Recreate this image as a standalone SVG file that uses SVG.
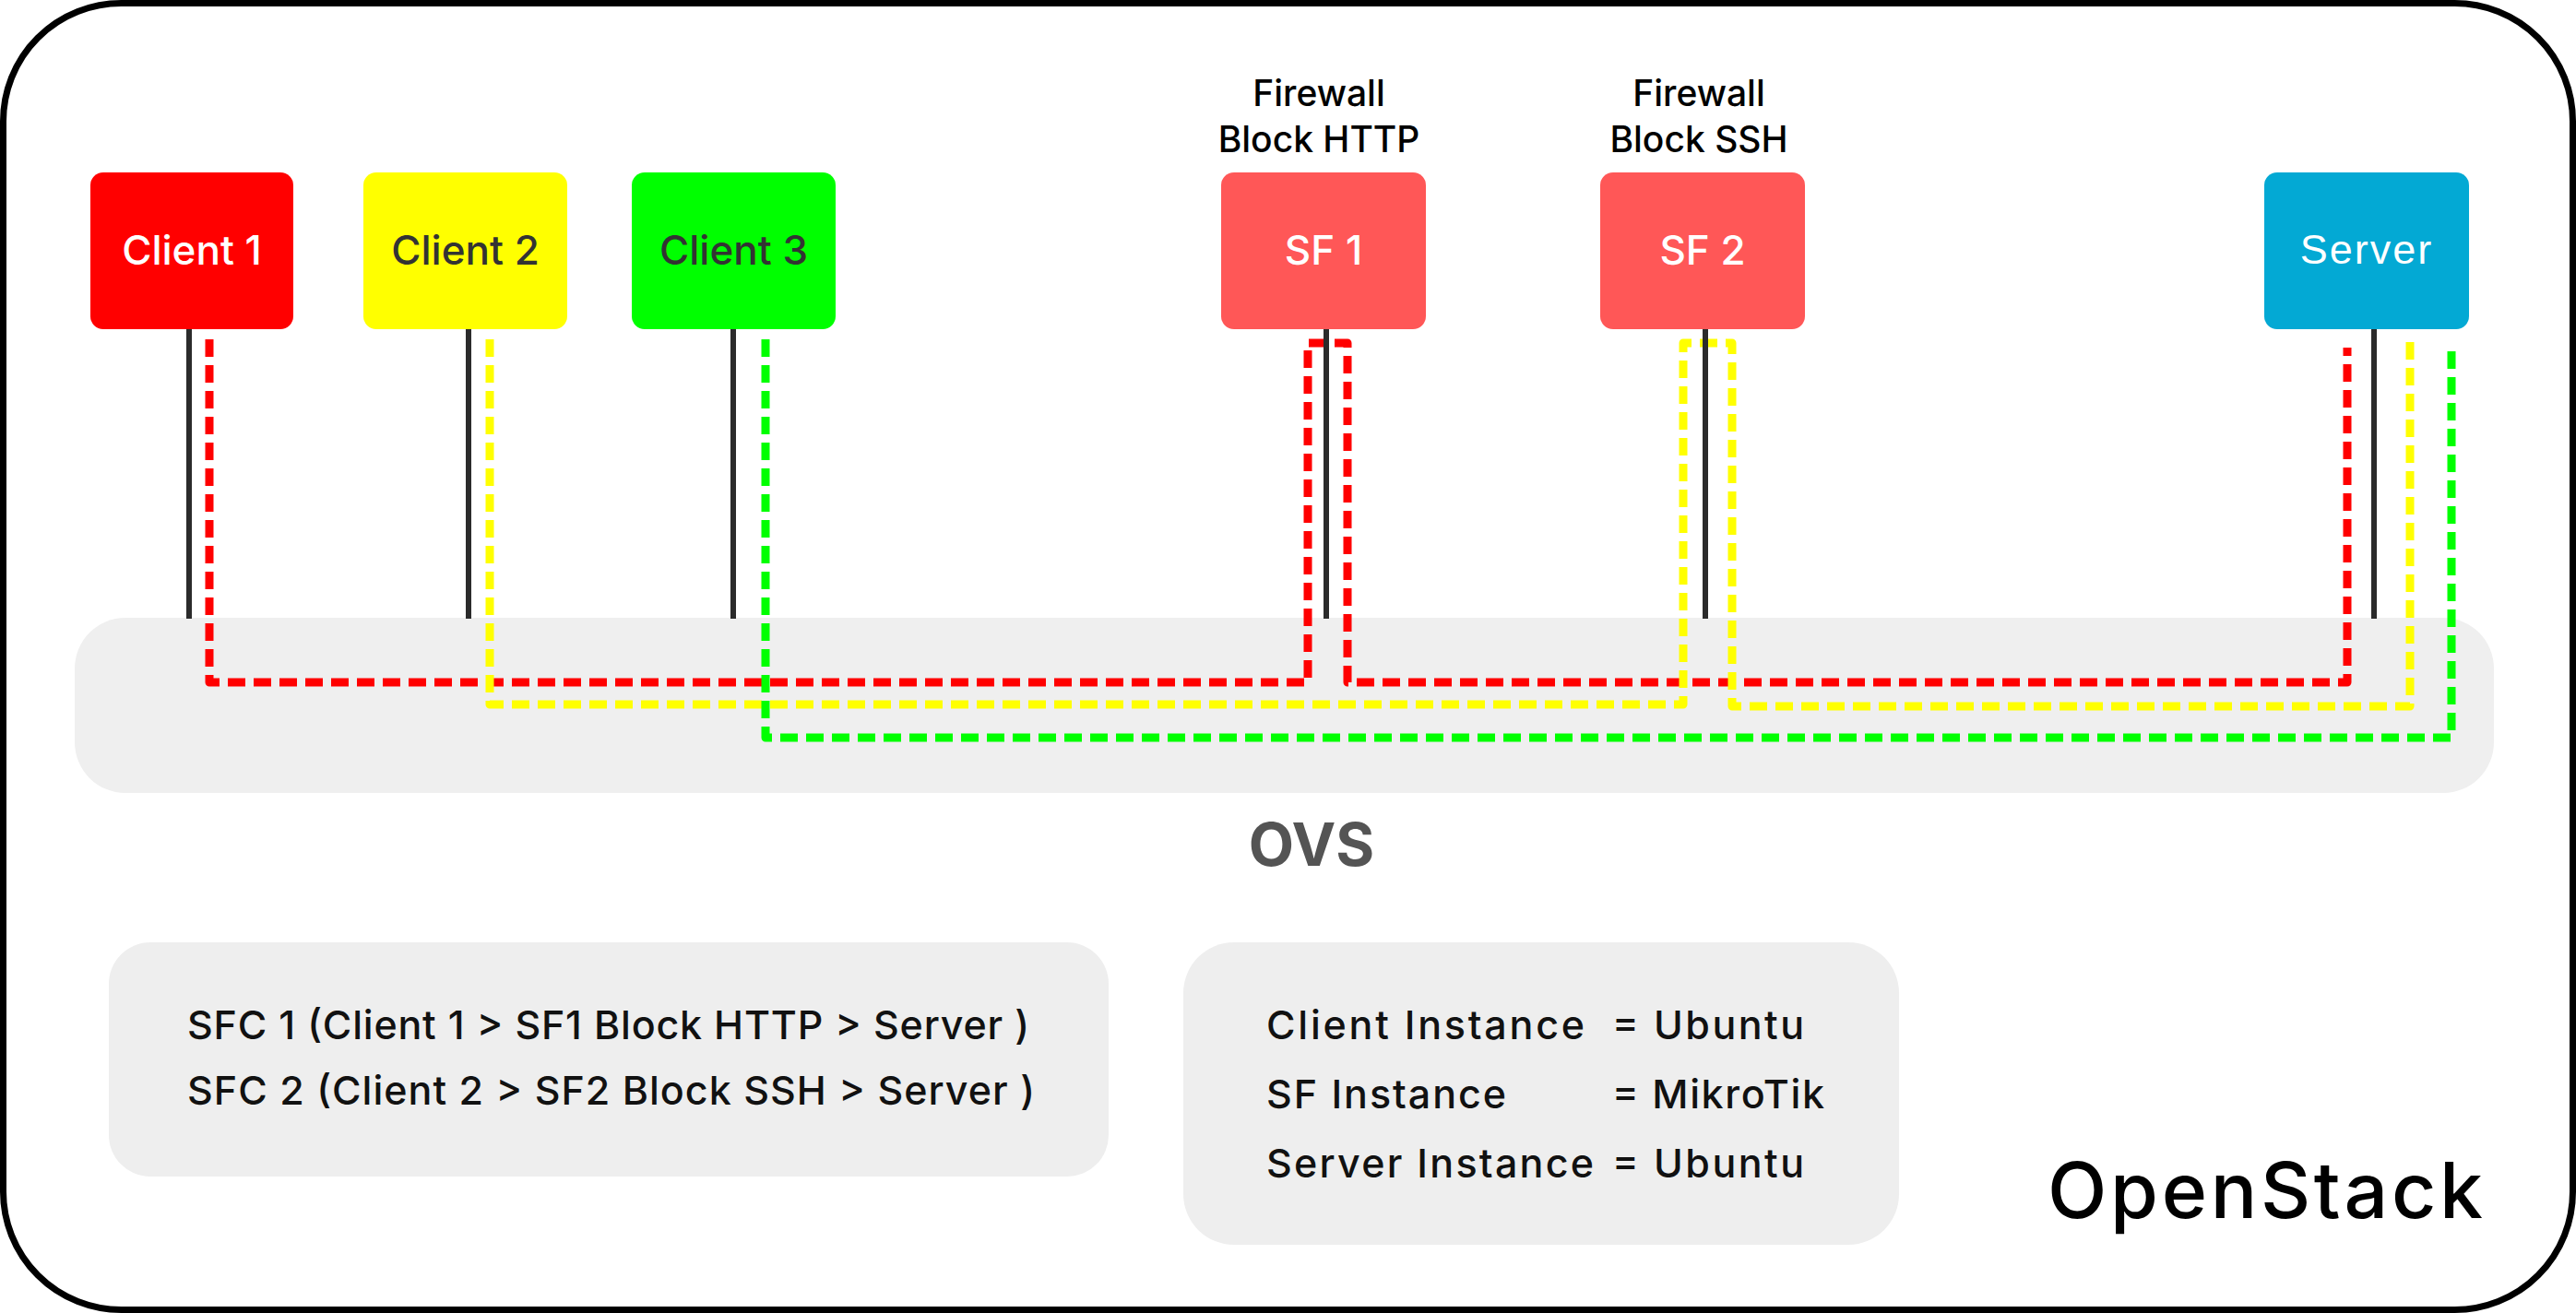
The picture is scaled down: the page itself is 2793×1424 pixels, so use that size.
<svg xmlns="http://www.w3.org/2000/svg" width="2793" height="1424" viewBox="0 0 2793 1424">
<style>
.lbl{font-family:Inter,"Open Sans",sans-serif;font-size:44px;font-weight:500;text-anchor:middle}
.fw{font-family:Inter,"Open Sans",sans-serif;font-size:39px;font-weight:500;text-anchor:middle;fill:#000}
.body{font-family:Inter,"Open Sans",sans-serif;font-size:43px;font-weight:500;fill:#111}
.dash{fill:none;stroke-width:9;stroke-dasharray:19 9;stroke-linejoin:round}
.wire{stroke:#2b2b2b;stroke-width:6}
.panel{fill:#eeeeee}
</style>
<rect x="0" y="0" width="2793" height="1424" fill="#ffffff"/>
<rect id="openstack-frame" x="3.5" y="3.5" width="2786" height="1417" rx="128" ry="128" fill="#ffffff" stroke="#000000" stroke-width="7"/>
<g id="ovs">
<rect x="81" y="670" width="2623" height="190" rx="55" ry="55" fill="#efefef"/>
<text x="1422" y="939" font-family="Inter,'Open Sans',sans-serif" font-size="64" font-weight="bold" fill="#545454" text-anchor="middle">OVS</text>
</g>
<g id="connectors">
<path class="dash" stroke="#ff0000" d="M227,368 V740 H1418 V372 H1461 V740 H2545 V377"/>
<path class="dash" stroke="#ffff00" d="M531,368 V764 H1825 V372 H1878 V766 H2613 V367"/>
<path class="dash" stroke="#00ff00" d="M830,368 V800 H2658 V377"/>
<line class="wire" x1="205" y1="357" x2="205" y2="671"/>
<line class="wire" x1="508" y1="357" x2="508" y2="671"/>
<line class="wire" x1="795" y1="357" x2="795" y2="671"/>
<line class="wire" x1="1438" y1="357" x2="1438" y2="671"/>
<line class="wire" x1="1849" y1="357" x2="1849" y2="671"/>
<line class="wire" x1="2574" y1="357" x2="2574" y2="671"/>
</g>
<g id="client1">
<rect x="98" y="187" width="220" height="170" rx="14" fill="#ff0000"/>
<text class="lbl" x="208" y="287" fill="#ffffff">Client 1</text>
</g>
<g id="client2">
<rect x="394" y="187" width="221" height="170" rx="14" fill="#ffff00"/>
<text class="lbl" x="504.5" y="287" fill="#333333">Client 2</text>
</g>
<g id="client3">
<rect x="685" y="187" width="221" height="170" rx="14" fill="#00ff00"/>
<text class="lbl" x="795.5" y="287" fill="#333333">Client 3</text>
</g>
<g id="sf1">
<text class="fw" x="1430" y="115">Firewall</text>
<text class="fw" x="1430" y="165">Block HTTP</text>
<rect x="1324" y="187" width="222" height="170" rx="14" fill="#ff5757"/>
<text class="lbl" x="1435" y="287" fill="#ffffff">SF 1</text>
</g>
<g id="sf2">
<text class="fw" x="1842" y="115">Firewall</text>
<text class="fw" x="1842" y="165">Block SSH</text>
<rect x="1735" y="187" width="222" height="170" rx="14" fill="#ff5757"/>
<text class="lbl" x="1846" y="287" fill="#ffffff">SF 2</text>
</g>
<g id="server">
<rect x="2455" y="187" width="222" height="170" rx="14" fill="#03a9d4"/>
<text x="2566" y="286" font-family="'Liberation Sans',Arial,sans-serif" font-size="45" letter-spacing="2" fill="#ffffff" text-anchor="middle">Server</text>
</g>
<g id="sfc-legend">
<rect class="panel" x="118" y="1022" width="1084" height="254" rx="45" ry="45"/>
<text class="body" x="203" y="1127" textLength="913">SFC 1 (Client 1 &gt; SF1 Block HTTP &gt; Server )</text>
<text class="body" x="203" y="1198" textLength="919">SFC 2 (Client 2 &gt; SF2 Block SSH &gt; Server )</text>
</g>
<g id="instance-legend">
<rect class="panel" x="1283" y="1022" width="776" height="328" rx="55" ry="55"/>
<text class="body" y="1127"><tspan x="1373" textLength="345">Client Instance</tspan><tspan x="1748" textLength="208">= Ubuntu</tspan></text>
<text class="body" y="1202"><tspan x="1373" textLength="260">SF Instance</tspan><tspan x="1748" textLength="230">= MikroTik</tspan></text>
<text class="body" y="1277"><tspan x="1373" textLength="355">Server Instance</tspan><tspan x="1748" textLength="208">= Ubuntu</tspan></text>
</g>
<text id="openstack-label" x="2220" y="1321" font-family="Inter,'Open Sans',sans-serif" font-size="84" font-weight="500" fill="#000000" textLength="472">OpenStack</text>
</svg>
